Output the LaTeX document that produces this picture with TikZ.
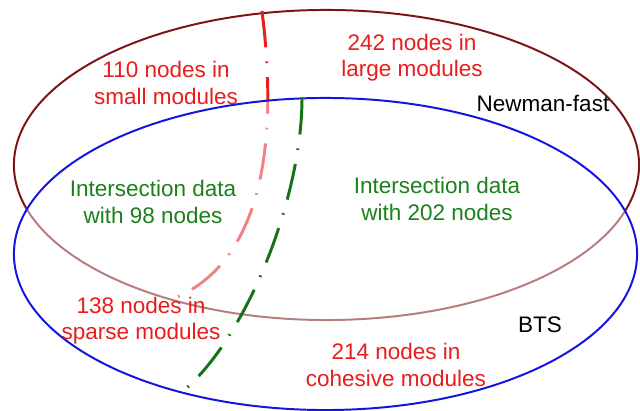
\documentclass[tikz,border=0pt]{standalone}
\usepackage{fontspec}
\setmainfont{Liberation Sans}
\usepackage{xcolor}
\usepackage{tikz}
\usetikzlibrary{positioning, calc}

\definecolor{labelred}{RGB}{234,28,28}
\definecolor{labelgreen}{RGB}{28,128,28}
\definecolor{newmanline}{RGB}{125,20,20}
\definecolor{btsline}{RGB}{20,20,225}
\definecolor{dashgreen}{RGB}{20,115,20}

\begin{document}
\begin{tikzpicture}[x=0.025cm, y=-0.025cm,
				SetLabel/.style={align=center, inner sep=0pt, font=\fontsize{16}{18.6}\selectfont},
				RedLabel/.style={SetLabel, text=labelred},
				GreenLabel/.style={SetLabel, text=labelgreen},
				SplitLine/.style={line width=2.1pt, dash pattern=on 26pt off 10pt on 1.2pt off 10pt}]

			\useasboundingbox[fill=white] (0,0) rectangle (640,411);

			% Sets
			\coordinate (NewmanCentre) at (326.5,165);
			\coordinate (BTSCentre) at (325.5,254);

			\draw[newmanline, line width=1.4pt] (NewmanCentre) ellipse [x radius=7.8125cm, y radius=3.875cm];

			% Lines
			\coordinate (RedTop) at (262,11);
			\coordinate (RedEnd) at (170,300);
			\draw[SplitLine, labelred] (RedTop) .. controls (282,170) and (250,270) .. (RedEnd);

			\fill[white, fill opacity=0.45] (BTSCentre) ellipse [x radius=7.7875cm, y radius=3.9cm];
			\draw[btsline, line width=1.4pt] (BTSCentre) ellipse [x radius=7.7875cm, y radius=3.9cm];

			\coordinate (GreenTop) at (302,98);
			\coordinate (GreenEnd) at (182,392);
			\draw[SplitLine, dashgreen] (GreenTop) .. controls (302,200) and (245,340) .. (GreenEnd);

			% Nodes
			\node[RedLabel] (Small) at (166,83) {110 nodes in\\small modules};
			\node[RedLabel] (Large) at (412,58) {242 nodes in\\large modules};
			\node[SetLabel] (Newman) at (543,103) {Newman-fast};
			\node[GreenLabel] (InterLeft) at (153,202) {Intersection data\\with 98 nodes};
			\node[GreenLabel] (InterRight) at (437,199) {Intersection data\\with 202 nodes};
			\node[RedLabel] (Sparse) at (141,321) {138 nodes in\\sparse modules};
			\node[SetLabel] (BTS) at (540,325) {BTS};
			\node[RedLabel] (Cohesive) at (396,365) {214 nodes in\\cohesive modules};
		\end{tikzpicture}
\end{document}
